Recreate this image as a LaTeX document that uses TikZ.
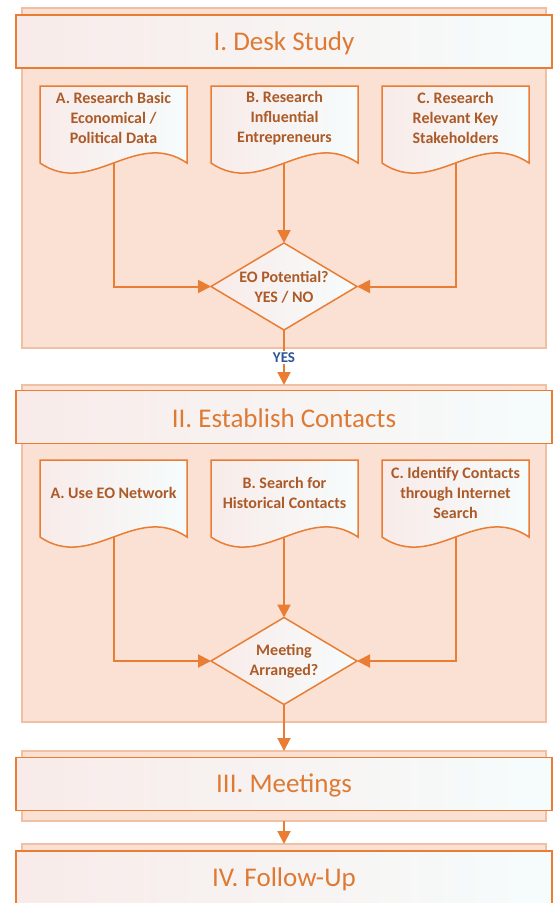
\documentclass[tikz,border=0pt]{standalone}
\usepackage{fontspec}
\setmainfont{Carlito}
\usetikzlibrary{arrows.meta,shapes.geometric}
\definecolor{orangeline}{RGB}{233,125,52}
\definecolor{secfill}{RGB}{251,225,211}
\definecolor{secline}{RGB}{240,192,165}
\definecolor{titletext}{RGB}{222,122,52}
\definecolor{doctextc}{RGB}{172,90,40}
\definecolor{yesblue}{RGB}{47,85,151}
\definecolor{shadeA}{RGB}{248,235,233}
\definecolor{shadeB}{RGB}{246,252,252}
\begin{document}
\begin{tikzpicture}[x=1pt,y=-1pt,
  secbg/.style={draw=secline, fill=secfill, line width=1.5pt, minimum width=524pt, inner sep=0pt, outer sep=0pt},
  titlebox/.style={draw=orangeline, line width=1.5pt, left color=shadeA, right color=shadeB, minimum width=536pt, minimum height=53pt, inner sep=0pt, outer sep=0pt},
  titletxt/.style={text=titletext, font=\fontsize{27}{31}\selectfont, inner sep=0pt},
  docbox/.style={minimum width=147pt, minimum height=77pt, inner sep=0pt, outer sep=0pt},
  docline/.style={draw=orangeline, line width=1.5pt, left color=shadeA, right color=shadeB},
  doctext/.style={align=center, text=doctextc, font=\fontsize{16}{20}\selectfont\bfseries, inner sep=0pt},
  decision/.style={diamond, draw=orangeline, line width=1.5pt, left color=shadeA, right color=shadeB, minimum width=146pt, minimum height=87pt, inner sep=0pt, outer sep=0pt},
  conn/.style={draw=orangeline, line width=2pt, -{Triangle[length=13pt,width=13pt]}},
  yeslabel/.style={fill=white, text=yesblue, font=\fontsize{15}{18}\selectfont\bfseries, inner sep=1.5pt}
]
\useasboundingbox (0,0) rectangle (557,903);

% Section backgrounds
\node[secbg, minimum height=340pt] (s1) at (284,178) {};
\node[secbg, minimum height=337pt] (s2) at (284,553.5) {};
\node[secbg, minimum height=70pt] (s3) at (284,786) {};
\node[secbg, minimum height=72pt] (s4) at (284,880) {};

% Titles
\node[titlebox] (t1) at (284,41.5) {};
\node[titlebox] (t2) at (284,417) {};
\node[titlebox] (t3) at (284,784) {};
\node[titlebox] (t4) at (284,877.5) {};
\node[titletxt] (t1t) at (284,43) {I. Desk Study};
\node[titletxt] (t2t) at (284,418.5) {II. Establish Contacts};
\node[titletxt] (t3t) at (284,785.5) {III. Meetings};
\node[titletxt] (t4t) at (284,879) {IV. Follow-Up};

% Document shapes
\node[docbox] (d1a) at (113.5,124.5) {};
\node[docbox] (d1b) at (284.5,124.5) {};
\node[docbox] (d1c) at (455.5,124.5) {};
\node[docbox] (d2a) at (113.5,498.5) {};
\node[docbox] (d2b) at (284.5,498.5) {};
\node[docbox] (d2c) at (455.5,498.5) {};
\foreach \n in {d1a,d1b,d1c,d2a,d2b,d2c}
  \path[docline] (\n.north west) -- (\n.north east) -- (\n.south east)
    .. controls +(-51.5,-35) and +(51.5,35) .. (\n.south west) -- cycle;

\node[doctext] (d1at) at (113.5,118) {A. Research Basic\\Economical /\\Political Data};
\node[doctext] (d1bt) at (284.5,118) {B. Research\\Influential\\Entrepreneurs};
\node[doctext] (d1ct) at (455.5,118) {C. Research\\Relevant Key\\Stakeholders};
\node[doctext] (d2at) at (113.5,493) {A. Use EO Network};
\node[doctext] (d2bt) at (284.5,493) {B. Search for\\Historical Contacts};
\node[doctext] (d2ct) at (455.5,493) {C. Identify Contacts\\through Internet\\Search};

% Decisions
\node[decision] (q1) at (284,286.5) {};
\node[doctext] (q1t) at (284,287) {EO Potential?\\YES / NO};
\node[decision] (q2) at (284,661) {};
\node[doctext] (q2t) at (284,661) {Meeting\\Arranged?};

% Connectors
\draw[conn] (d1a.south) |- (q1.west);
\draw[conn] (d1b.south -| q1.north) -- (q1.north);
\draw[conn] (d1c.south) |- (q1.east);
\draw[conn] (d2a.south) |- (q2.west);
\draw[conn] (d2b.south -| q2.north) -- (q2.north);
\draw[conn] (d2c.south) |- (q2.east);

\draw[conn] (q1.south) -- node[yeslabel] (yes) {YES} (s2.north);
\draw[conn] (q2.south) -- (s3.north);
\draw[conn] (s3.south) -- (s4.north);
\end{tikzpicture}
\end{document}
